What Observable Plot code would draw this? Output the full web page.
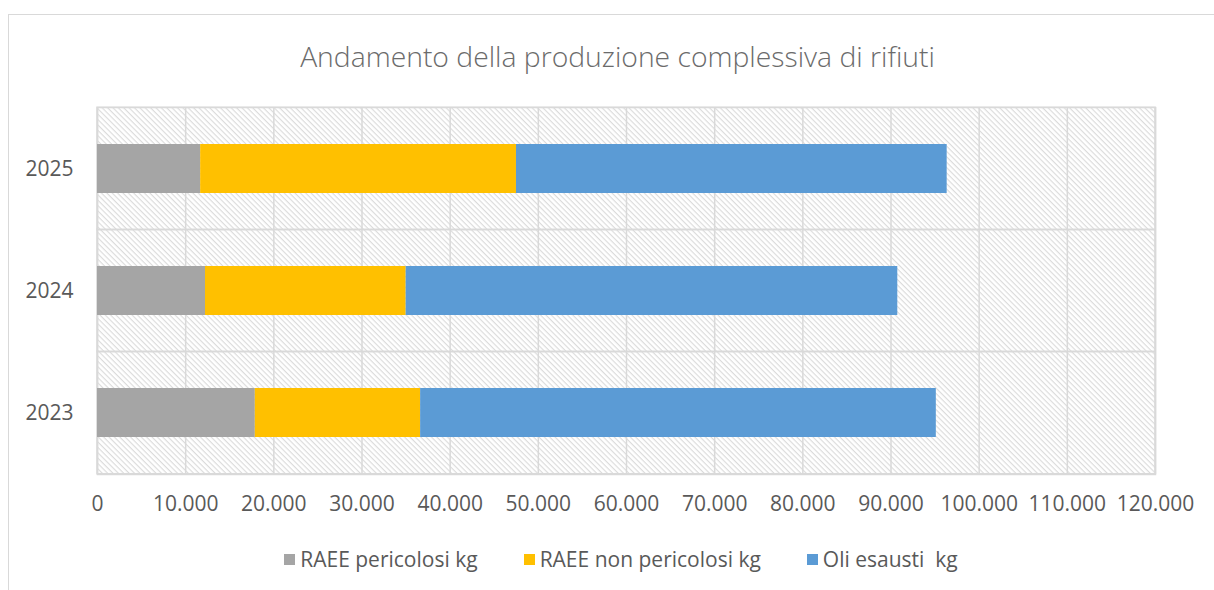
<!DOCTYPE html>
<html>
<head>
<meta charset="utf-8">
<script src="https://cdn.jsdelivr.net/npm/d3@7"></script>
<script src="https://cdn.jsdelivr.net/npm/@observablehq/plot@0.6"></script>
<style>
  html, body { margin: 0; padding: 0; background: #fff; overflow: hidden; }
  body { width: 1214px; height: 590px; position: relative; font-family: "Open Sans", "Liberation Sans", sans-serif; }
  #border { position: absolute; left: 8px; top: 14px; width: 1230px; height: 600px; border: 1.5px solid #d9d9d9; box-sizing: border-box; }
  #title { position: absolute; left: 0; top: 37px; width: 1235px; text-align: center; font-size: 28.3px; color: #6b6b6b; font-weight: 300; }
  #chart { position: absolute; left: 0; top: 80px; }
  #legend { position: absolute; left: 0; top: 545px; width: 1242px; display: flex; justify-content: center; align-items: center; font-size: 21px; color: #595959; }
  .item { display: flex; align-items: center; margin: 0 23px; white-space: pre; }
  .sw { width: 11px; height: 11px; margin-right: 5px; }
</style>
</head>
<body>
<svg width="0" height="0" style="position:absolute">
  <defs>
    <pattern id="hatch" patternUnits="userSpaceOnUse" width="3.8" height="3.8" patternTransform="rotate(45)">
      <rect width="3.8" height="3.8" fill="#ffffff"></rect>
      <line x1="0" y1="0.6" x2="3.8" y2="0.6" stroke="#d9d9d9" stroke-width="1.1"></line>
    </pattern>
  </defs>
</svg>
<div id="border"></div>
<div id="title">Andamento della produzione complessiva di rifiuti</div>
<div id="chart"></div>
<div id="legend"></div>
<script>
// ---- data ----
const years = ["2025", "2024", "2023"];
const seriesNames = ["RAEE pericolosi kg", "RAEE non pericolosi kg", "Oli esausti  kg"];
const raeePericolosi = [11700, 12250, 17900];
const raeeNonPericolosi = [35820, 22760, 18750];
const oliEsausti = [48850, 55760, 58490];
const xTicks = [0, 10000, 20000, 30000, 40000, 50000, 60000, 70000, 80000, 90000, 100000, 110000, 120000];
const colors = ["#A5A5A5", "#FFC000", "#5B9BD5"];

const seriesValues = [raeePericolosi, raeeNonPericolosi, oliEsausti];
const table = [];
years.forEach((y, i) => {
  seriesNames.forEach((s, j) => table.push({ year: y, series: s, value: seriesValues[j][i] }));
});

const fmt = d3.formatLocale({ decimal: ",", thousands: ".", grouping: [3], currency: ["", "€"] }).format(",");

const W = 1214, H = 460;
const mTop = 27, mBottom = 66, mLeft = 97, mRight = 59;
const plotH = H - mTop - mBottom;
const pad = 0.1 * plotH; // half of the gap between bars (band outer padding)

const chart = Plot.plot({
  width: W,
  height: H,
  marginTop: mTop,
  marginBottom: mBottom,
  marginLeft: mLeft,
  marginRight: mRight,
  style: { fontFamily: '"Open Sans", "Liberation Sans", sans-serif', fontSize: "21px", color: "#595959", background: "transparent" },
  x: { domain: [0, 120000], ticks: xTicks, tickFormat: fmt, tickSize: 0, tickPadding: 22, label: null },
  y: { domain: years, padding: 0.6, paddingOuter: 0.3, tickSize: 0, tickPadding: 24, label: null },
  color: { domain: seriesNames, range: colors },
  marks: [
    Plot.frame({ fill: "url(#hatch)", stroke: "none" }),
    Plot.gridX(xTicks, { stroke: "#d9d9d9", strokeOpacity: 1, strokeWidth: 1.5 }),
    Plot.barX(years, { x1: () => 0, x2: () => 120000, y: d => d, fill: "none", stroke: "#d9d9d9", strokeWidth: 1.5, insetTop: -pad, insetBottom: -pad }),
    Plot.frame({ stroke: "#d9d9d9", strokeWidth: 1.5 }),
    Plot.barX(table, Plot.stackX({ x: "value", y: "year", fill: "series", order: seriesNames })),
    Plot.axisX({ ticks: xTicks, tickFormat: fmt, tickSize: 0, tickPadding: 22, fill: "#595959" }),
    Plot.axisY({ tickSize: 0, tickPadding: 24, fill: "#595959" })
  ]
});
document.getElementById("chart").appendChild(chart);

const legend = document.getElementById("legend");
seriesNames.forEach((s, i) => {
  const item = document.createElement("div");
  item.className = "item";
  const sw = document.createElement("span");
  sw.className = "sw";
  sw.style.background = colors[i];
  const t = document.createElement("span");
  t.textContent = s;
  item.appendChild(sw);
  item.appendChild(t);
  legend.appendChild(item);
});
</script>
</body>
</html>
